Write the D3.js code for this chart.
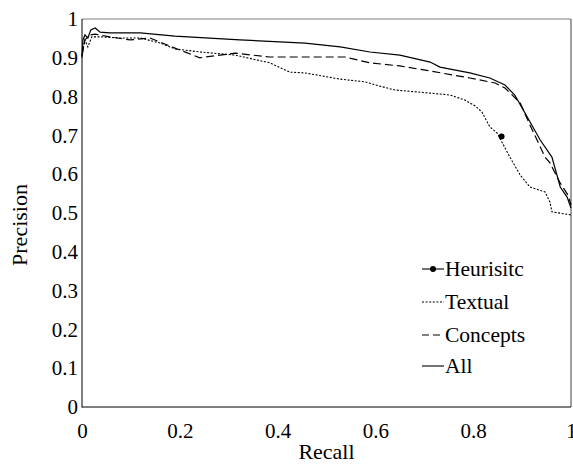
<!DOCTYPE html>
<html>
<head>
<meta charset="utf-8">
<script src="https://cdn.jsdelivr.net/npm/d3@7"></script>
<style>
  html, body { margin: 0; padding: 0; background: #fff; }
  svg { display: block; }
</style>
</head>
<body>
<svg id="chart" width="573" height="464"></svg>
<script>
// ---- data ----
const seriesNames = ["Heurisitc", "Textual", "Concepts", "All"];
const xTicks = [0, 0.2, 0.4, 0.6, 0.8, 1];
const yTicks = [0, 0.1, 0.2, 0.3, 0.4, 0.5, 0.6, 0.7, 0.8, 0.9, 1];

const heuristic = [[0.858, 0.697]];

const textual = [
  [0, 0.907], [0.006, 0.946], [0.012, 0.928], [0.02, 0.954], [0.037, 0.954],
  [0.078, 0.951], [0.119, 0.951], [0.16, 0.938], [0.19, 0.923], [0.241, 0.915],
  [0.313, 0.907], [0.384, 0.887], [0.425, 0.863], [0.456, 0.861], [0.528, 0.845],
  [0.579, 0.838], [0.609, 0.827], [0.64, 0.817], [0.712, 0.809], [0.753, 0.804],
  [0.783, 0.791], [0.804, 0.776], [0.818, 0.76], [0.834, 0.722], [0.849, 0.706],
  [0.875, 0.644], [0.896, 0.598], [0.916, 0.567], [0.947, 0.554], [0.957, 0.528],
  [0.961, 0.503], [1.0, 0.495]
];

const concepts = [
  [0, 0.905], [0.006, 0.946], [0.016, 0.959], [0.027, 0.961], [0.057, 0.954],
  [0.098, 0.946], [0.139, 0.951], [0.19, 0.925], [0.241, 0.9], [0.313, 0.912],
  [0.384, 0.902], [0.456, 0.902], [0.538, 0.902], [0.589, 0.887], [0.65, 0.879],
  [0.712, 0.866], [0.793, 0.848], [0.845, 0.835], [0.865, 0.822], [0.896, 0.784],
  [0.916, 0.727], [0.947, 0.644], [0.957, 0.629], [0.978, 0.577], [0.994, 0.546],
  [1.0, 0.521]
];

const all = [
  [0, 0.90], [0.002, 0.946], [0.006, 0.959], [0.012, 0.951], [0.018, 0.972],
  [0.027, 0.977], [0.037, 0.966], [0.057, 0.964], [0.119, 0.964], [0.19, 0.956],
  [0.323, 0.946], [0.456, 0.938], [0.528, 0.928], [0.589, 0.915], [0.65, 0.907],
  [0.712, 0.889], [0.732, 0.876], [0.793, 0.861], [0.834, 0.848], [0.865, 0.83],
  [0.885, 0.804], [0.9, 0.771], [0.916, 0.735], [0.937, 0.688], [0.961, 0.644],
  [0.978, 0.567], [0.992, 0.541], [1.0, 0.513]
];

// ---- layout ----
const FONT = "'Liberation Serif', 'Times New Roman', Times, 'DejaVu Serif', serif";
const svg = d3.select("#chart").attr("font-family", FONT);
const pL = 82, pR = 571, pT = 19, pB = 407;
const x = d3.scaleLinear().domain([0, 1]).range([pL, pR]);
const y = d3.scaleLinear().domain([0, 1]).range([pB, pT]);

// frame
svg.append("line").attr("x1", pL).attr("x2", pR).attr("y1", pT).attr("y2", pT)
  .attr("stroke", "#7f7f7f").attr("stroke-width", 1);
svg.append("line").attr("x1", pR).attr("x2", pR).attr("y1", pT).attr("y2", pB)
  .attr("stroke", "#7f7f7f").attr("stroke-width", 1.5);
svg.append("line").attr("x1", pL).attr("x2", pL).attr("y1", pT).attr("y2", pB + 0.5)
  .attr("stroke", "#000").attr("stroke-width", 1);
svg.append("line").attr("x1", pL).attr("x2", pR).attr("y1", pB).attr("y2", pB)
  .attr("stroke", "#000").attr("stroke-width", 1);

// axes (labels only)
const fmt = d => d === 0 ? "0" : d === 1 ? "1" : d3.format(".1f")(d);
const yAxis = d3.axisLeft(y).tickValues(yTicks).tickFormat(fmt).tickSize(0).tickPadding(4);
const gy = svg.append("g").attr("transform", `translate(${pL},0)`).call(yAxis)
  .attr("font-family", FONT).attr("font-size", 21);
gy.select(".domain").remove();
gy.selectAll("text").attr("fill", "#000");

const xAxis = d3.axisBottom(x).tickValues(xTicks).tickFormat(fmt).tickSize(0).tickPadding(16);
const gx = svg.append("g").attr("transform", `translate(0,${pB})`).call(xAxis)
  .attr("font-family", FONT).attr("font-size", 21);
gx.select(".domain").remove();
gx.selectAll("text").attr("fill", "#000");

// axis titles
svg.append("text").attr("x", (pL + pR) / 2).attr("y", 459)
  .attr("text-anchor", "middle").attr("font-size", 22).attr("font-family", FONT).text("Recall");
svg.append("text").attr("transform", `translate(27,${(pT + pB) / 2 + 12}) rotate(-90)`)
  .attr("text-anchor", "middle").attr("font-size", 22).attr("font-family", FONT).text("Precision");

// lines
const line = d3.line().x(d => x(d[0])).y(d => y(d[1]));
const styles = {
  Textual: { data: textual, dash: "2,1.6", width: 1.1 },
  Concepts: { data: concepts, dash: "8,4", width: 1.2 },
  All: { data: all, dash: null, width: 1.2 }
};
["Textual", "Concepts", "All"].forEach(k => {
  const s = styles[k];
  svg.append("path").datum(s.data).attr("d", line)
    .attr("fill", "none").attr("stroke", "#000")
    .attr("stroke-width", s.width)
    .attr("stroke-dasharray", s.dash);
});

// heuristic point
svg.selectAll(".hpt").data(heuristic).enter().append("circle")
  .attr("cx", d => x(d[0])).attr("cy", d => y(d[1])).attr("r", 3).attr("fill", "#000");

// legend
const legY = [269, 302, 335, 366];
const lx1 = 422, lx2 = 444;
seriesNames.forEach((name, i) => {
  const g = svg.append("g");
  const ly = legY[i];
  let dash = null;
  if (name === "Textual") dash = "2,1.6";
  if (name === "Concepts") dash = "7,4";
  g.append("line").attr("x1", lx1).attr("x2", lx2).attr("y1", ly).attr("y2", ly)
    .attr("stroke", "#000").attr("stroke-width", 1.1).attr("stroke-dasharray", dash);
  if (name === "Heurisitc") {
    g.append("circle").attr("cx", (lx1 + lx2) / 2).attr("cy", ly).attr("r", 3).attr("fill", "#000");
  }
  g.append("text").attr("x", lx2 + 1).attr("y", ly + 7)
    .attr("font-size", 21.5).attr("font-family", FONT).text(name);
});
</script>
</body>
</html>
